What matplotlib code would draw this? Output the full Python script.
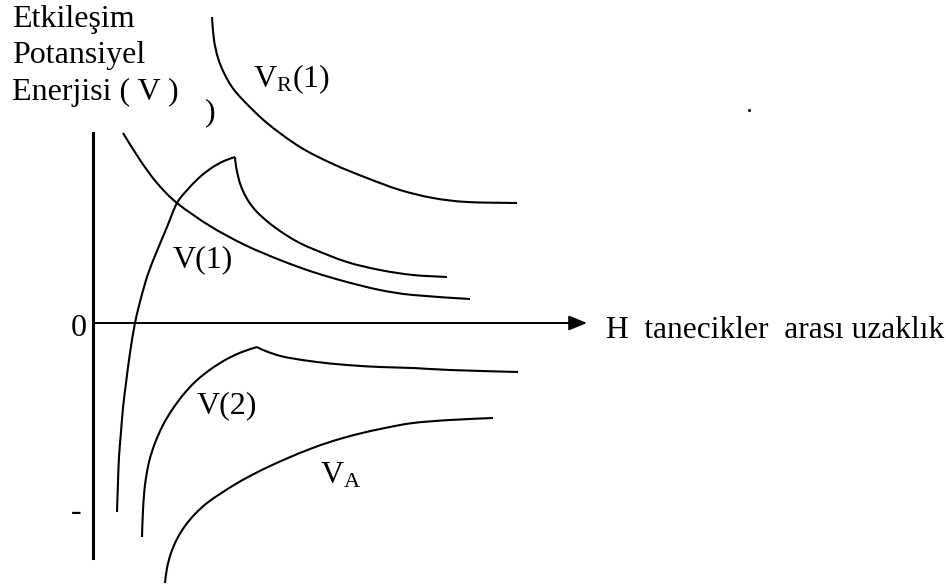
import matplotlib
matplotlib.use("Agg")
import matplotlib.pyplot as plt
from matplotlib.path import Path
from matplotlib.patches import PathPatch
import numpy as np

plt.rcParams['font.family'] = ['Liberation Serif', 'DejaVu Serif']
plt.rcParams['mathtext.fontset'] = 'custom'
plt.rcParams['mathtext.rm'] = 'Liberation Serif'
plt.rcParams['mathtext.it'] = 'Liberation Serif:italic'

# CURVES (H = distance, V = interaction energy, arbitrary units; 0 at the H axis)
vr1_h = [119, 121, 125, 131, 139, 150, 174, 207, 240, 274, 307, 340, 374, 424]
vr1_v = [306, 283, 265, 250, 236, 223, 200, 176, 159, 145, 133, 125, 121, 120]

rep_h = [30, 47, 64, 84, 117, 152, 187, 220, 254, 287, 320, 377]
rep_v = [190, 163, 140, 120, 97, 78, 63, 51, 41, 33, 28, 24]

# V(1): rising branch up to the cusp, then the falling tail
v1_rise_h = [24, 25, 26, 28, 30, 33, 37, 42, 48, 55, 64, 74, 84, 96, 108, 120, 131, 142]
v1_rise_v = [-189, -159, -134, -109, -85, -60, -30, 0, 25, 49, 72, 96, 120, 135, 147, 156, 162, 166]
v1_fall_h = [142, 143, 146, 150, 156, 164, 175, 187, 203, 220, 254, 287, 320, 354]
v1_fall_v = [166, 157, 143, 132, 121, 111, 101, 92, 82, 74, 61, 53, 48, 46]

# V(2): same layout
v2_rise_h = [49, 50, 52, 56, 62, 70, 79, 90, 103, 118, 134, 149, 164]
v2_rise_v = [-214, -187, -162, -139, -120, -102, -87, -72, -58, -46, -36, -29, -24]
v2_fall_h = [164, 170, 184, 197, 224, 254, 287, 320, 357, 425]
v2_fall_v = [-24, -27, -32, -35, -39, -42, -44, -45, -47, -49]

va_h = [72, 74, 78, 84, 92, 102, 114, 127, 141, 157, 175, 195, 217, 240, 265, 292,
        320, 357, 400]
va_v = [-260, -245, -230, -216, -203, -191, -180, -171, -162, -153, -144, -135,
        -126, -118, -111, -105, -100, -97, -95]

y_label_lines = ['Etkileşim', 'Potansiyel', 'Enerjisi ( V )']
x_label = 'H  tanecikler  arası uzaklık'
curve_labels = ['V$_{\\mathrm{R}}$(1)', 'V(1)', 'V(2)', 'V$_{\\mathrm{A}}$']


def smooth_path(h, v):
    # Catmull-Rom through the points, written as cubic Bezier segments
    pts = np.column_stack([h, v]).astype(float)
    n = len(pts)
    verts = [pts[0]]
    codes = [Path.MOVETO]
    for i in range(n - 1):
        p0 = pts[i - 1] if i > 0 else pts[i]
        p1 = pts[i]
        p2 = pts[i + 1]
        p3 = pts[i + 2] if i + 2 < n else pts[i + 1]
        verts += [p1 + (p2 - p0) / 6, p2 - (p3 - p1) / 6, p2]
        codes += [Path.CURVE4] * 3
    return Path(verts, codes)


# PLOT
fig = plt.figure(figsize=(9.46, 5.87), dpi=100)
ax = fig.add_axes([0, 0, 1, 1])
ax.set_xlim(-93, 853)
ax.set_ylim(-264, 323)
ax.axis('off')

curves = [(vr1_h, vr1_v), (rep_h, rep_v), (v1_rise_h, v1_rise_v), (v1_fall_h, v1_fall_v),
          (v2_rise_h, v2_rise_v), (v2_fall_h, v2_fall_v), (va_h, va_v)]
for h, v in curves:
    ax.add_patch(PathPatch(smooth_path(h, v), facecolor='none', edgecolor='black',
                           lw=1.5, capstyle='butt'))

# axes
ax.plot([0, 0], [190, -235], color='black', lw=2.2)
ax.annotate('', xy=(494, 0), xytext=(0, 0),
            arrowprops=dict(arrowstyle='-|>,head_length=1.1,head_width=0.45',
                            color='black', lw=1.4, shrinkA=0, shrinkB=0))

fs = 23
ax.text(-14, -6, '0', fontsize=fs, ha='center', va='center')
ax.text(-17, -189, '-', fontsize=fs, ha='center', va='center')
ax.text(513, -15, x_label, fontsize=22.7, ha='left', va='baseline')

for i, line in enumerate(y_label_lines):
    ax.text(-81, 296 - i * 36.5, line, fontsize=fs, ha='left', va='baseline')

label_pos = [(160, 236), (80, 56), (104, -90), (227, -160)]
for txt, (h, v) in zip(curve_labels, label_pos):
    ax.text(h, v, txt, fontsize=fs, ha='left', va='baseline')

ax.text(117, 210, ')', fontsize=fs, ha='center', va='center')
ax.plot([656], [213], marker='o', ms=1.2, color='black')

fig.savefig('out.png', dpi=100)
